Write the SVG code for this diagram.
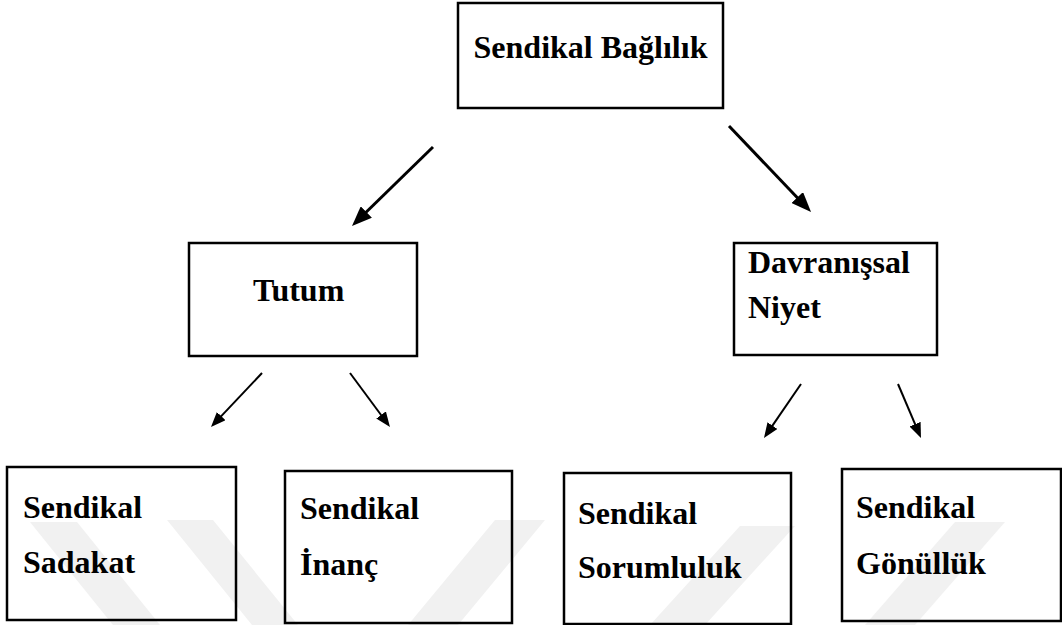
<svg xmlns="http://www.w3.org/2000/svg" width="1062" height="625" viewBox="0 0 1062 625">
  <style>
    .box { fill: none; stroke: #000; stroke-width: 2.5; }
    .lbl { font-family: "Liberation Serif", "Times New Roman", serif; font-weight: bold; font-size: 32px; fill: #000; }
    .thick { stroke: #000; stroke-width: 3; fill: none; }
    .thin { stroke: #000; stroke-width: 2; fill: none; }
    .wm { fill: #f1f1f1; }
  </style>
  <defs>
    <marker id="headBig" markerUnits="userSpaceOnUse" markerWidth="20" markerHeight="16" refX="14" refY="8" orient="auto">
      <path d="M0,0 L20,8 L0,16 z" fill="#000"/>
    </marker>
    <marker id="headSmall" markerUnits="userSpaceOnUse" markerWidth="15" markerHeight="12" refX="10" refY="6" orient="auto">
      <path d="M0,0 L15,6 L0,12 z" fill="#000"/>
    </marker>
  </defs>
  <rect width="1062" height="625" fill="#fff"/>

  <g id="watermark">
    <polygon class="wm" points="30,522 77,522 160,625 113,625"/>
    <polygon class="wm" points="167,520 213,520 298,625 252,625"/>
    <polygon class="wm" points="495,520 545,520 458,625 408,625"/>
    <polygon class="wm" points="740,526 795,526 705,625 650,625"/>
    <polygon class="wm" points="955,522 1005,522 915,625 865,625"/>
  </g>

  <g id="connectors">
    <line class="thick" x1="433" y1="147" x2="356.3" y2="221.8" marker-end="url(#headBig)"/>
    <line class="thick" x1="729" y1="126" x2="806.9" y2="207.7" marker-end="url(#headBig)"/>
    <line class="thin" x1="262" y1="373" x2="214.4" y2="423.4" marker-end="url(#headSmall)"/>
    <line class="thin" x1="350" y1="373" x2="387" y2="423" marker-end="url(#headSmall)"/>
    <line class="thin" x1="801" y1="384" x2="766.8" y2="433.9" marker-end="url(#headSmall)"/>
    <line class="thin" x1="898" y1="384" x2="919" y2="433.4" marker-end="url(#headSmall)"/>
  </g>

  <g id="node-baglilik">
    <rect class="box" x="458" y="3" width="265" height="105"/>
    <text class="lbl" x="590.5" y="58" text-anchor="middle">Sendikal Bağlılık</text>
  </g>
  <g id="node-tutum">
    <rect class="box" x="189" y="243" width="228" height="113"/>
    <text class="lbl" x="253" y="301">Tutum</text>
  </g>
  <g id="node-davranissal">
    <rect class="box" x="734" y="243" width="203" height="112"/>
    <text class="lbl" x="748" y="273">Davranışsal</text>
    <text class="lbl" x="748" y="318">Niyet</text>
  </g>
  <g id="node-sadakat">
    <rect class="box" x="7" y="467" width="229" height="153"/>
    <text class="lbl" x="23" y="518">Sendikal</text>
    <text class="lbl" x="23" y="573">Sadakat</text>
  </g>
  <g id="node-inanc">
    <rect class="box" x="285" y="471" width="227" height="152"/>
    <text class="lbl" x="300" y="519">Sendikal</text>
    <text class="lbl" x="300" y="575">İnanç</text>
  </g>
  <g id="node-sorumluluk">
    <rect class="box" x="564" y="473" width="227" height="151"/>
    <text class="lbl" x="578" y="524">Sendikal</text>
    <text class="lbl" x="578" y="578">Sorumluluk</text>
  </g>
  <g id="node-gonulluk">
    <rect class="box" x="842" y="469" width="219" height="152"/>
    <text class="lbl" x="856" y="518">Sendikal</text>
    <text class="lbl" x="856" y="574">Gönüllük</text>
  </g>
</svg>
